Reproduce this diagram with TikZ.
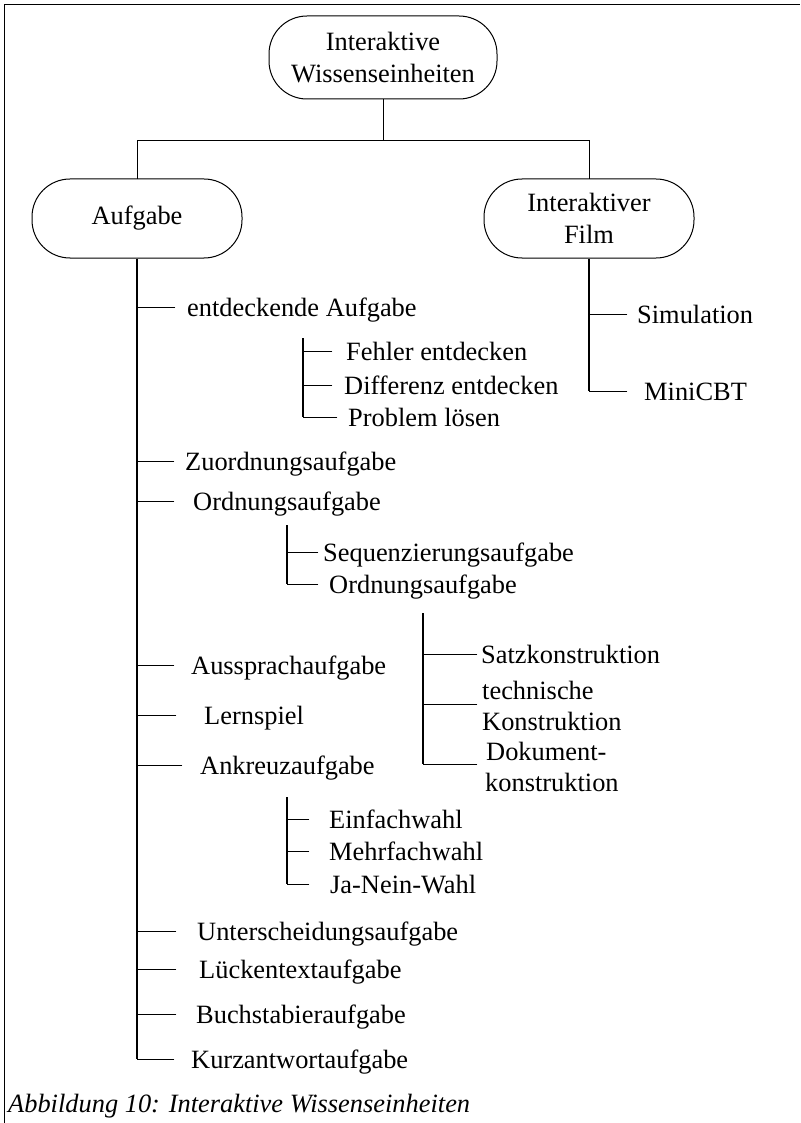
\documentclass[tikz,border=0pt]{standalone}
\usepackage{fontspec}
\setmainfont{Liberation Serif}
\begin{document}
\begin{tikzpicture}[x=1pt,y=-1pt,
  txt/.style={font=\fontsize{26.4}{31.7}\selectfont},
  box/.style={draw,line width=1pt,rounded corners=38pt,align=center,inner sep=0pt,txt},
  lbl/.style={anchor=base west,inner sep=0pt,txt},
  lbltwo/.style={anchor=west,inner sep=0pt,align=left,txt},
  conn/.style={line width=0.9pt,line cap=rect},
  trunk/.style={line width=1.1pt}]
\useasboundingbox (0,0) rectangle (800,1123);
% frame
\draw[line width=1pt] (4,1123) -- (4,5) -- (800,5);

% boxes
\node[box,minimum width=228pt,minimum height=83pt] (root) at (383,57.5) {Interaktive\\Wissenseinheiten};
\node[box,minimum width=210pt,minimum height=79pt] (aufg) at (137,218.5) {Aufgabe};
\node[box,minimum width=210pt,minimum height=79pt] (film) at (589,218.5) {Interaktiver\\Film};

\coordinate (bar) at (383,140);
\draw[conn] (root.south) -- (bar) -| (aufg.north);
\draw[conn] (bar) -| (film.north);

% Aufgabe column
\foreach \n/\y/\xe/\tx/\t in {
  a1/307/175/187/entdeckende Aufgabe,
  a2/461/174/185/Zuordnungsaufgabe,
  a3/501/174/193/Ordnungsaufgabe,
  a4/665/174/191/Aussprachaufgabe,
  a5/715/176/204/Lernspiel,
  a6/765/182/200/Ankreuzaufgabe,
  a7/931/176/197/Unterscheidungsaufgabe,
  a8/969/176/199/Lückentextaufgabe,
  a9/1014/176/196/Buchstabieraufgabe,
  a10/1059/174/191/Kurzantwortaufgabe}{
  \coordinate (\n s) at (137,\y);
  \coordinate (\n e) at (\xe,\y);
  \node[lbl] (\n) at (\tx,\y+9) {\t};
  \draw[conn] (\n s) -- (\n e);
}
\draw[trunk] (aufg.south) -- (a10s);

% Film column
\foreach \n/\y/\xe/\tx/\t in {
  f1/314/627/637/Simulation,
  f2/391/627/644/MiniCBT}{
  \coordinate (\n s) at (589,\y);
  \coordinate (\n e) at (\xe,\y);
  \node[lbl] (\n) at (\tx,\y+9) {\t};
  \draw[conn] (\n s) -- (\n e);
}
\draw[trunk] (film.south) -- (f2s);

% entdeckende Aufgabe subgroup
\coordinate (b0) at (303,338);
\foreach \n/\y/\xe/\tx/\t in {
  b1/351/332/346/Fehler entdecken,
  b2/385/332/344/Differenz entdecken,
  b3/417/337/348/Problem lösen}{
  \coordinate (\n s) at (303,\y);
  \coordinate (\n e) at (\xe,\y);
  \node[lbl] (\n) at (\tx,\y+9) {\t};
  \draw[conn] (\n s) -- (\n e);
}
\draw[trunk] (b0) -- (b3s);

% Ordnungsaufgabe subgroup
\coordinate (c0) at (287,525);
\foreach \n/\y/\xe/\tx/\t in {
  c1/552/318/323/Sequenzierungsaufgabe,
  c2/584/318/329/Ordnungsaufgabe}{
  \coordinate (\n s) at (287,\y);
  \coordinate (\n e) at (\xe,\y);
  \node[lbl] (\n) at (\tx,\y+9) {\t};
  \draw[conn] (\n s) -- (\n e);
}
\draw[trunk] (c0) -- (c2s);

% Konstruktion subgroup
\coordinate (d0) at (423,613);
\coordinate (d1s) at (423,654); \coordinate (d1e) at (477,654);
\coordinate (d2s) at (423,704); \coordinate (d2e) at (477,704);
\coordinate (d3s) at (423,764); \coordinate (d3e) at (477,764);
\node[lbl] (d1) at (481,663) {Satzkonstruktion};
\node[lbltwo] (d2) at (482,706) {technische\\Konstruktion};
\node[lbltwo] (d3) at (485,767) {\hspace*{1pt}Dokument-\\konstruktion};
\draw[conn] (d1s) -- (d1e);
\draw[conn] (d2s) -- (d2e);
\draw[conn] (d3s) -- (d3e);
\draw[trunk] (d0) -- (d3s);

% Ankreuzaufgabe subgroup
\coordinate (e0) at (287,797);
\foreach \n/\y/\xe/\tx/\t in {
  e1/819/309/329/Einfachwahl,
  e2/851/309/329/Mehrfachwahl,
  e3/884/309/330/Ja-Nein-Wahl}{
  \coordinate (\n s) at (287,\y);
  \coordinate (\n e) at (\xe,\y);
  \node[lbl] (\n) at (\tx,\y+9) {\t};
  \draw[conn] (\n s) -- (\n e);
}
\draw[trunk] (e0) -- (e3s);

% caption
\node[lbl,font=\fontsize{26.4}{31.7}\selectfont\itshape] (cap) at (8,1112) {Abbildung 10: Interaktive Wissenseinheiten};
\end{tikzpicture}
\end{document}
